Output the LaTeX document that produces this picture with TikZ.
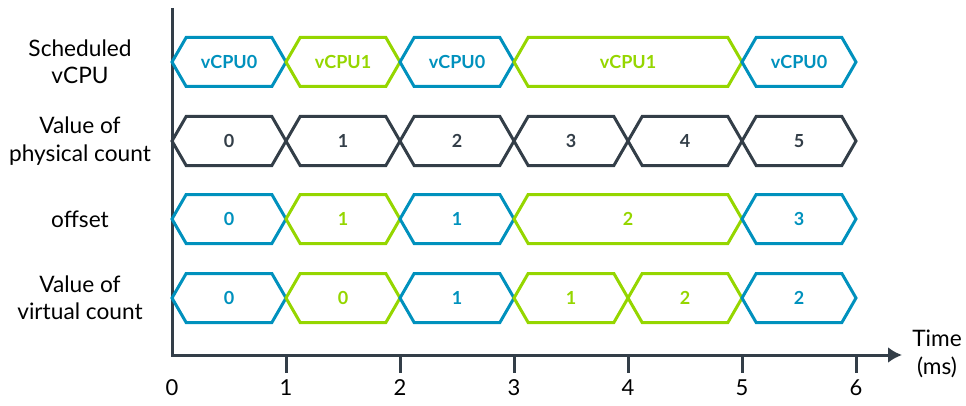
\documentclass[tikz,border=0pt]{standalone}
\usepackage{fontspec}
\setmainfont{Lato}
\usepackage{xcolor}
\usepackage{tikz}
\usetikzlibrary{shapes.symbols,arrows.meta,positioning}

\definecolor{cpublue}{HTML}{0091BD}
\definecolor{cpugreen}{HTML}{95D600}
\definecolor{axisgray}{HTML}{333E48}

\begin{document}
\begin{tikzpicture}[
    x=0.75pt, y=-0.75pt,
    cell/.style={signal, signal to=west and east, signal pointer angle=120, draw, line width=2.25pt, minimum height=36.75pt, inner sep=0pt, outer sep=0pt, font=\fontsize{13.5}{15}\selectfont\bfseries},
    rowlabel/.style={align=center, font=\fontsize{17}{20.5}\selectfont},
    axis/.style={draw=axisgray, line width=2.25pt},
    ticklabel/.style={font=\fontsize{16.5}{19}\selectfont}
    ]
    \useasboundingbox (0,0) rectangle (966,406);

    % Ejes
    \coordinate (ytop) at (172,8);
    \coordinate (origin) at (172,355);
    \coordinate (xend) at (902,355);
    \draw[axis, -{Latex[length=10.5pt,width=12pt]}] (ytop) -- (origin) -- (xend);
    \node[ticklabel] (t0) at (172,388) {0};
    \foreach \t in {1,...,6} {
        \coordinate (tick\t) at ({172+114*\t},355);
        \draw[axis] (tick\t) -- ++(0,18);
        \node[ticklabel] (t\t) at ({172+114*\t},388) {\t};
    }
    \node[rowlabel] (time) at (937,354) {Time\\(ms)};

    % Etiquetas de fila
    \node[rowlabel] (lsched) at (80,62) {Scheduled\\vCPU};
    \node[rowlabel] (lphys) at (80,141) {Value of\\physical count};
    \node[rowlabel] (loff) at (80,219) {offset};
    \node[rowlabel] (lvirt) at (80,298) {Value of\\virtual count};

    % Fila 1: vCPU planificada
    \foreach \a/\b/\c/\txt [count=\i] in {0/1/cpublue/vCPU0, 1/2/cpugreen/vCPU1, 2/3/cpublue/vCPU0, 3/5/cpugreen/vCPU1, 5/6/cpublue/vCPU0}
        \node[cell, draw=\c, text=\c, minimum width={85.5pt*(\b-\a)}] (sched\i) at ({172+57*(\a+\b)},62) {\txt};

    % Fila 2: contador fisico
    \foreach \a/\b/\txt [count=\i] in {0/1/0, 1/2/1, 2/3/2, 3/4/3, 4/5/4, 5/6/5}
        \node[cell, draw=axisgray, text=axisgray, minimum width={85.5pt*(\b-\a)}] (phys\i) at ({172+57*(\a+\b)},141) {\txt};

    % Fila 3: offset
    \foreach \a/\b/\c/\txt [count=\i] in {0/1/cpublue/0, 1/2/cpugreen/1, 2/3/cpublue/1, 3/5/cpugreen/2, 5/6/cpublue/3}
        \node[cell, draw=\c, text=\c, minimum width={85.5pt*(\b-\a)}] (off\i) at ({172+57*(\a+\b)},219) {\txt};

    % Fila 4: contador virtual
    \foreach \a/\b/\c/\txt [count=\i] in {0/1/cpublue/0, 1/2/cpugreen/0, 2/3/cpublue/1, 3/4/cpugreen/1, 4/5/cpugreen/2, 5/6/cpublue/2}
        \node[cell, draw=\c, text=\c, minimum width={85.5pt*(\b-\a)}] (virt\i) at ({172+57*(\a+\b)},298) {\txt};

\end{tikzpicture}
\end{document}
